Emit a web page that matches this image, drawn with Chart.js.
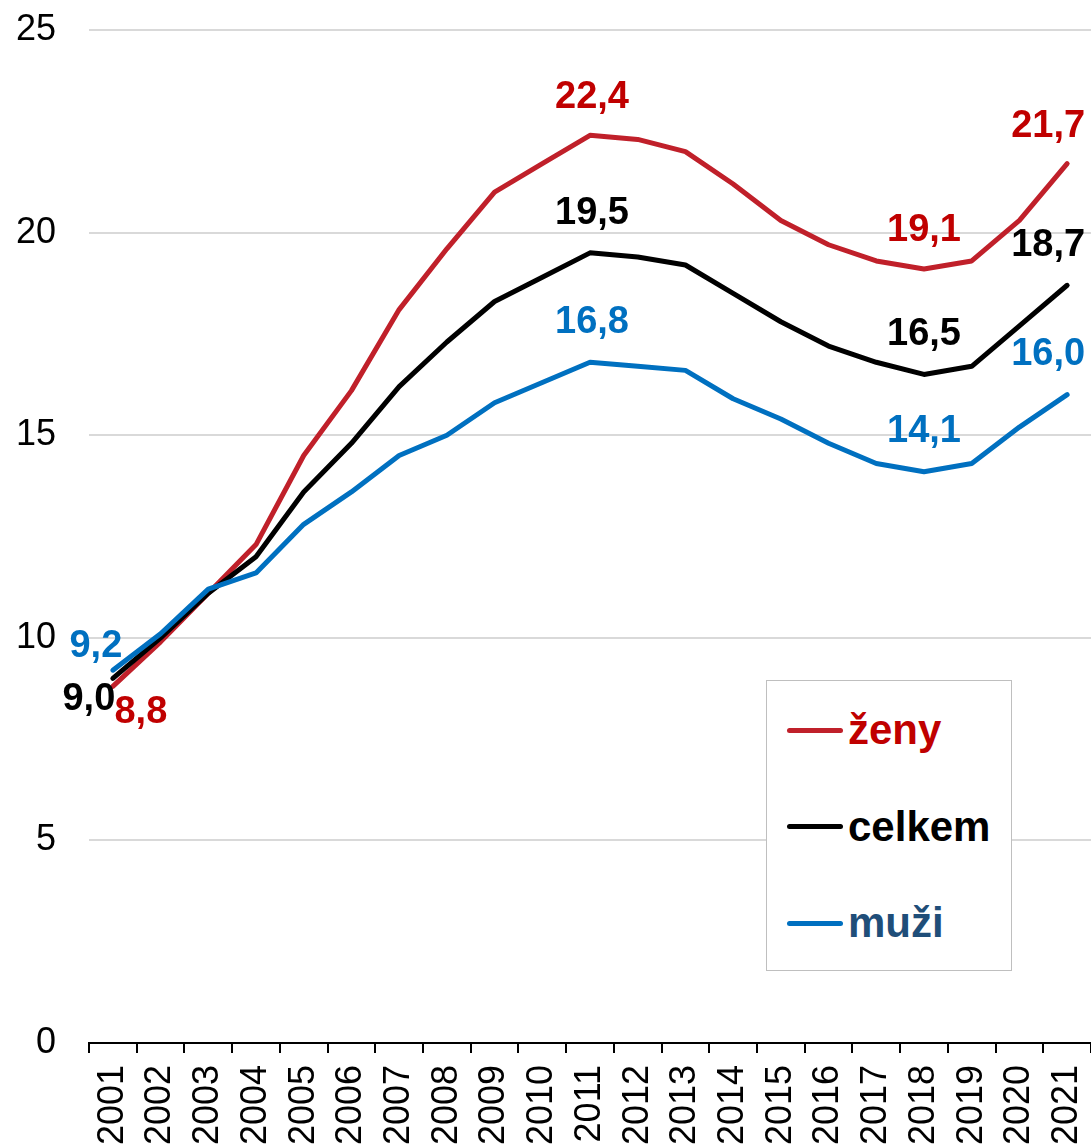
<!DOCTYPE html>
<html>
<head>
<meta charset="utf-8">
<script src="https://cdn.jsdelivr.net/npm/chart.js@4"></script>
<style>
  html, body { margin: 0; padding: 0; background: #fff; }
  #wrap { position: relative; width: 1091px; height: 1148px; overflow: hidden; }
  #legend { position: absolute; left: 766px; top: 680px; width: 244px; height: 289px;
            border: 1px solid #bfbfbf; background: #fff; box-sizing: content-box; }
  .item { position: absolute; left: 20px; height: 50px; display: flex; align-items: center;
          font-family: "Liberation Sans", Arial, sans-serif; font-weight: bold; font-size: 42px; }
  .sw { width: 56px; height: 5px; border-radius: 3px; margin-right: 5px; }
</style>
</head>
<body>
<div id="wrap">
  <canvas id="c" width="1091" height="1148"></canvas>
  <div id="legend"></div>
</div>
<script>
const years = ["2001","2002","2003","2004","2005","2006","2007","2008","2009","2010","2011","2012","2013","2014","2015","2016","2017","2018","2019","2020","2021"];
const zeny   = [8.8, 9.9, 11.1, 12.3, 14.5, 16.1, 18.1, 19.6, 21.0, 21.7, 22.4, 22.3, 22.0, 21.2, 20.3, 19.7, 19.3, 19.1, 19.3, 20.3, 21.7];
const celkem = [9.0, 10.0, 11.1, 12.0, 13.6, 14.8, 16.2, 17.3, 18.3, 18.9, 19.5, 19.4, 19.2, 18.5, 17.8, 17.2, 16.8, 16.5, 16.7, 17.7, 18.7];
const muzi   = [9.2, 10.1, 11.2, 11.6, 12.8, 13.6, 14.5, 15.0, 15.8, 16.3, 16.8, 16.7, 16.6, 15.9, 15.4, 14.8, 14.3, 14.1, 14.3, 15.2, 16.0];
const seriesNames = ["ženy", "celkem", "muži"];
const yTicks = [0, 5, 10, 15, 20, 25];

const FONT = '"Liberation Sans", Arial, sans-serif';
const lineColors = ["#C0202A", "#000000", "#0070C0"];
const labelColors = ["#C00000", "#000000", "#0070C0"];
const legendTextColors = ["#C00000", "#000000", "#1F4E79"];

// label placement: [datasetIndex, pointIndex, dx, dy]
const labelSpecs = [
  [2, 0, -17, -24], [1, 0, -24, 21], [0, 0, 28, 26],
  [0, 10, 2, -38], [1, 10, 2, -39], [2, 10, 2, -40],
  [0, 17, 0, -39], [1, 17, 0, -40], [2, 17, 0, -40],
  [0, 20, -19, -37], [1, 20, -19, -40], [2, 20, -19, -40]
];

const dataLabelPlugin = {
  id: 'dataLabels',
  afterDatasetsDraw(chart) {
    const ctx = chart.ctx;
    ctx.save();
    ctx.font = 'bold 38px ' + FONT;
    ctx.textAlign = 'center';
    ctx.textBaseline = 'middle';
    labelSpecs.forEach(([d, i, dx, dy]) => {
      const pt = chart.getDatasetMeta(d).data[i];
      const v = chart.data.datasets[d].data[i];
      ctx.fillStyle = labelColors[d];
      ctx.fillText(v.toFixed(1).replace('.', ','), pt.x + dx, pt.y + dy);
    });
    ctx.restore();
  }
};

function noPad(scale) {
  scale.paddingLeft = 0; scale.paddingRight = 0; scale.paddingTop = 0; scale.paddingBottom = 0;
}

const allSeries = [zeny, celkem, muzi];
new Chart(document.getElementById('c'), {
  type: 'line',
  data: {
    labels: years,
    datasets: allSeries.map((s, k) => ({
      label: seriesNames[k],
      data: s,
      borderColor: lineColors[k],
      backgroundColor: lineColors[k],
      borderWidth: 5,
      pointRadius: 0,
      tension: 0,
      borderCapStyle: 'round',
      borderJoinStyle: 'round',
      order: 2 - k
    }))
  },
  options: {
    responsive: false,
    animation: false,
    layout: { padding: { top: 30, right: 0, bottom: 0, left: 0 } },
    plugins: { legend: { display: false }, tooltip: { enabled: false } },
    scales: {
      x: {
        offset: true,
        grid: { offset: true, drawOnChartArea: false, drawTicks: true, tickLength: 10, color: '#000', lineWidth: 2 },
        border: { display: true, color: '#000', width: 2 },
        ticks: { autoSkip: false, maxRotation: 90, minRotation: 90, padding: 12, color: '#000',
                 font: { family: FONT, size: 36 } },
        afterFit(scale) { scale.height = 105; noPad(scale); }
      },
      y: {
        min: 0, max: 25,
        afterBuildTicks(scale) { scale.ticks = yTicks.map(v => ({ value: v })); },
        grid: { color: '#d9d9d9', lineWidth: 2, drawTicks: false },
        border: { display: false },
        ticks: { padding: 33, color: '#000', font: { family: FONT, size: 36 } },
        afterFit(scale) { scale.width = 89; noPad(scale); }
      }
    }
  },
  plugins: [dataLabelPlugin]
});

const legend = document.getElementById('legend');
seriesNames.forEach((name, k) => {
  const it = document.createElement('div');
  it.className = 'item';
  it.style.top = (49 + k * 96.5 - 25) + 'px';
  const sw = document.createElement('span');
  sw.className = 'sw';
  sw.style.background = lineColors[k];
  const tx = document.createElement('span');
  tx.textContent = name;
  tx.style.color = legendTextColors[k];
  it.appendChild(sw); it.appendChild(tx);
  legend.appendChild(it);
});
</script>
</body>
</html>
